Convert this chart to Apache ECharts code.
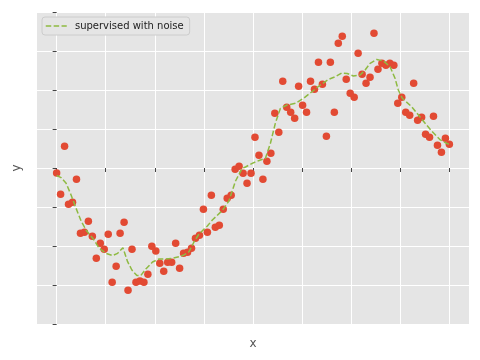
<!DOCTYPE html>
<html><head><meta charset="utf-8">
<script src="https://cdn.jsdelivr.net/npm/echarts@6/dist/echarts.min.js"></script>
<style>html,body{margin:0;padding:0;background:#fff}#c{width:480px;height:360px}</style>
</head><body><div id="c"></div>
<script>
// observed sample values (noisy), sample index 0..99
const noisyY = [-0.064,-0.337,0.278,-0.465,-0.440,-0.145,-0.837,-0.824,-0.683,-0.876,
-1.158,-0.965,-1.042,-0.850,-1.465,-1.260,-0.837,-0.696,-1.568,-1.042,
-1.465,-1.449,-1.465,-1.363,-1.004,-1.064,-1.222,-1.324,-1.209,-1.209,
-0.965,-1.286,-1.094,-1.081,-1.029,-0.901,-0.863,-0.529,-0.824,-0.350,
-0.760,-0.735,-0.529,-0.388,-0.350,-0.017,0.022,-0.068,-0.196,-0.068,
0.394,0.163,-0.145,0.086,0.188,0.701,0.458,1.112,0.778,0.714,
0.637,1.047,0.804,0.714,1.112,1.009,1.355,1.073,0.406,1.355,
0.714,1.599,1.688,1.137,0.958,0.906,1.471,1.201,1.086,1.163,
1.727,1.265,1.342,1.317,1.342,1.317,0.829,0.906,0.714,0.676,
1.086,0.612,0.650,0.432,0.394,0.663,0.291,0.201,0.381,0.304];
// fitted curve: positions (in sample index) and values
const fitX = [0,1.13,2.39,3.64,4.90,6.16,7.41,9.10,10.75,12.44,14.12,15.38,16.71,17.89,18.97,20.23,21.23,22.49,24.17,25.83,27.51,29.20,30.85,32.11,33.37,34.62,35.88,37.99,39.25,41.76,43.42,45.10,46.78,47.61,49.30,51.38,52.64,53.89,55.15,56.41,58.09,60.18,62.26,64.37,66.46,68.54,70.23,71.91,73.24,74.82,76.51,77.76,79.02,80.70,82.36,84.05,85.30,86.13,87.14,89.50,92.01,94.52,96.61,98.29,99];
const fitY = [-0.096,-0.124,-0.196,-0.346,-0.517,-0.679,-0.795,-0.901,-1.029,-1.094,-1.122,-1.094,-1.022,-1.201,-1.308,-1.378,-1.378,-1.295,-1.205,-1.167,-1.167,-1.158,-1.137,-1.115,-1.073,-0.949,-0.846,-0.744,-0.667,-0.545,-0.423,-0.167,-0.004,0.013,0.060,0.103,0.124,0.317,0.577,0.765,0.808,0.829,0.894,0.978,1.064,1.135,1.171,1.218,1.212,1.179,1.192,1.256,1.342,1.391,1.372,1.299,1.150,1.000,0.894,0.786,0.628,0.474,0.365,0.317,0.301];
const xTicks = [0,12.375,24.75,37.125,49.5,61.875,74.25,86.625,99];
const seriesName = 'supervised with noise';

const chart = echarts.init(document.getElementById('c'), null, {renderer:'canvas'});
const scatterData = noisyY.map((v,i)=>[i,v]);
const lineData = fitX.map((x,i)=>[x,fitY[i]]);
chart.setOption({
  animation:false,
  backgroundColor:'#ffffff',
  textStyle:{fontFamily:'DejaVu Sans'},
  grid:{left:37,right:11,top:12,bottom:36,show:true,backgroundColor:'#E5E5E5',borderWidth:0},
  legend:{
    data:[seriesName], left:42, top:17, orient:'vertical',
    backgroundColor:'#E5E5E5', borderColor:'#CCCCCC', borderWidth:1, borderRadius:3,
    padding:[4,6,4,3], itemWidth:21, itemHeight:10, itemGap:4,
    itemStyle:{opacity:0},
    lineStyle:{color:'#8EBA42',width:1.5,type:[5.5,2.4]},
    formatter:function(n){return ' '+n;},
    textStyle:{fontFamily:'DejaVu Sans',fontSize:10,color:'#222'}
  },
  xAxis:{
    type:'value', min:-4.95, max:103.95,
    name:'x', nameLocation:'middle', nameGap:14,
    nameTextStyle:{fontFamily:'DejaVu Sans',fontSize:12,color:'#555'},
    axisLine:{show:true,lineStyle:{color:'rgba(0,0,0,0)'}},
    axisTick:{show:true,length:4,lineStyle:{color:'#444',width:1},customValues:xTicks},
    axisLabel:{show:false,customValues:xTicks},
    splitLine:{show:true,lineStyle:{color:'#FFFFFF',width:1}}
  },
  yAxis:{
    type:'value', min:-2, max:2, interval:0.5,
    name:'y', nameLocation:'middle', nameGap:14,
    nameTextStyle:{fontFamily:'DejaVu Sans',fontSize:12,color:'#555'},
    axisLine:{show:true,lineStyle:{color:'rgba(0,0,0,0)'}},
    axisTick:{show:true,length:4,lineStyle:{color:'#444',width:1}},
    axisLabel:{show:false},
    splitLine:{show:true,lineStyle:{color:'#FFFFFF',width:1}}
  },
  series:[
    {type:'scatter', name:'points', data:scatterData, symbolSize:7.5,
     itemStyle:{color:'#E24A33',opacity:1}, z:2},
    {type:'line', name:seriesName, data:lineData, showSymbol:false, symbol:'none', smooth:false,
     lineStyle:{color:'#8EBA42',width:1.5,type:[5.5,2.4]}, itemStyle:{color:'#8EBA42'}, z:3}
  ]
});
</script></body></html>
